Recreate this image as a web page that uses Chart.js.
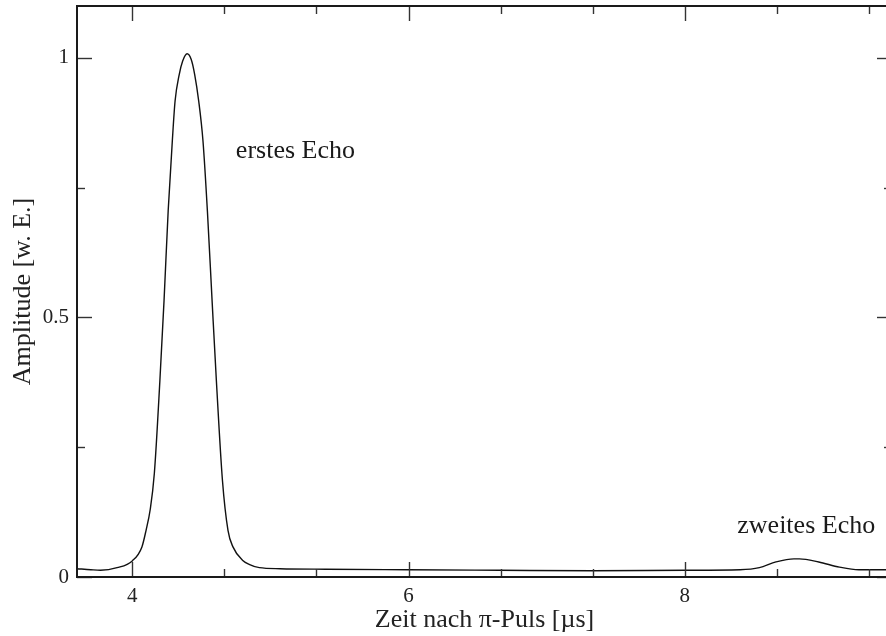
<!DOCTYPE html>
<html>
<head>
<meta charset="utf-8">
<script src="https://cdn.jsdelivr.net/npm/chart.js@4"></script>
<style>
  html, body { margin: 0; padding: 0; background: #fff; overflow: hidden; width: 886px; height: 636px; }
  canvas { display: block; }
</style>
</head>
<body>
<canvas id="echoChart" width="892" height="636"></canvas>
<script>
// Zeit nach pi-Puls (µs) and Amplitude
const time = [
  3.60, 3.70, 3.77, 3.89, 4.00, 4.07, 4.10, 4.13, 4.16, 4.20, 4.23,
  4.26, 4.29, 4.31, 4.34, 4.365, 4.397, 4.427, 4.452, 4.481, 4.512,
  4.544, 4.578, 4.609, 4.653, 4.693, 4.729, 4.80, 4.85, 4.92, 5.07,
  5.40, 6.00, 6.66, 7.33, 8.00, 8.40, 8.54, 8.66, 8.79, 8.83,
  8.97, 9.12, 9.26, 9.50
];
const amplitude = [
  0.016, 0.014, 0.013, 0.018, 0.031, 0.058, 0.090, 0.130, 0.200, 0.378, 0.532,
  0.705, 0.840, 0.917, 0.968, 0.994, 1.008, 0.997, 0.968, 0.917, 0.840,
  0.705, 0.532, 0.378, 0.186, 0.090, 0.058, 0.032, 0.024, 0.018, 0.016,
  0.015, 0.014, 0.013, 0.012, 0.013, 0.014, 0.018, 0.029, 0.035, 0.035,
  0.029, 0.019, 0.014, 0.014
];

// tick positions
const xMajorTicks = [4, 6, 8];
const xMinorTicks = [4.667, 5.333, 6.667, 7.333, 8.667, 9.333];
const yMajorTicks = [0, 0.5, 1];
const yMinorTicks = [0.25, 0.75];

// text labels in the plot
const noteTexts = ['erstes Echo', 'zweites Echo'];
const noteX = [4.75, 8.38];
const noteY = [0.807, 0.085];

const serif = '"Liberation Serif", "Times New Roman", serif';

// inward ticks on all four sides, closed frame, and the two notes
const framePlugin = {
  id: 'framePlugin',
  afterDatasetsDraw(chart) {
    const { ctx, chartArea: a, scales: { x, y } } = chart;
    ctx.save();
    ctx.strokeStyle = '#333';
    ctx.lineWidth = 1.4;
    const seg = (x1, y1, x2, y2) => {
      ctx.beginPath(); ctx.moveTo(x1, y1); ctx.lineTo(x2, y2); ctx.stroke();
    };
    const xt = (vals, len) => vals.forEach(v => {
      const px = Math.round(x.getPixelForValue(v)) + 0.5;
      seg(px, a.bottom, px, a.bottom - len);
      seg(px, a.top, px, a.top + len);
    });
    const yt = (vals, len) => vals.forEach(v => {
      const py = Math.round(y.getPixelForValue(v)) + 0.5;
      seg(a.left, py, a.left + len, py);
      seg(a.right, py, a.right - len, py);
    });
    xt(xMajorTicks, 15);
    xt(xMinorTicks, 8);
    yt(yMajorTicks, 15);
    yt(yMinorTicks, 8);

    ctx.strokeStyle = '#1a1a1a';
    ctx.lineWidth = 2;
    ctx.strokeRect(a.left, a.top, a.right - a.left, a.bottom - a.top);

    ctx.fillStyle = '#1a1a1a';
    ctx.font = '26px ' + serif;
    ctx.textAlign = 'left';
    ctx.textBaseline = 'alphabetic';
    noteTexts.forEach((t, i) => {
      ctx.fillText(t, x.getPixelForValue(noteX[i]), y.getPixelForValue(noteY[i]));
    });
    ctx.restore();
  }
};

const ctx = document.getElementById('echoChart').getContext('2d');
new Chart(ctx, {
  type: 'line',
  data: {
    datasets: [{
      data: time.map((t, i) => ({ x: t, y: amplitude[i] })),
      borderColor: '#111',
      borderWidth: 1.4,
      pointRadius: 0,
      fill: false,
      cubicInterpolationMode: 'monotone'
    }]
  },
  options: {
    responsive: false,
    animation: false,
    events: [],
    layout: { padding: { top: 6, right: 0, left: 0, bottom: 0 } },
    plugins: { legend: { display: false }, tooltip: { enabled: false } },
    scales: {
      x: {
        type: 'linear',
        min: 3.6,
        max: 9.5,
        grid: { display: false, drawTicks: false },
        border: { display: false },
        afterBuildTicks: s => { s.ticks = xMajorTicks.map(v => ({ value: v })); },
        afterFit: s => { s.height = 59; s.paddingLeft = 0; s.paddingRight = 0; },
        ticks: {
          padding: 7,
          color: '#222',
          font: { family: serif, size: 21 },
          callback: v => String(v)
        },
        title: {
          display: true,
          text: 'Zeit nach π-Puls [µs]',
          color: '#222',
          font: { family: serif, size: 26 },
          padding: { top: 0, bottom: 0 }
        }
      },
      y: {
        min: 0,
        max: 1.1,
        grid: { display: false, drawTicks: false },
        border: { display: false },
        afterBuildTicks: s => { s.ticks = yMajorTicks.map(v => ({ value: v })); },
        afterFit: s => { s.width = 77; s.paddingTop = 0; s.paddingBottom = 0; },
        ticks: {
          padding: 8,
          color: '#222',
          font: { family: serif, size: 21 },
          callback: v => String(v)
        },
        title: {
          display: true,
          text: 'Amplitude [w. E.]',
          color: '#222',
          font: { family: serif, size: 26 },
          padding: { top: 8, bottom: 0 }
        }
      }
    }
  },
  plugins: [framePlugin]
});
</script>
</body>
</html>
